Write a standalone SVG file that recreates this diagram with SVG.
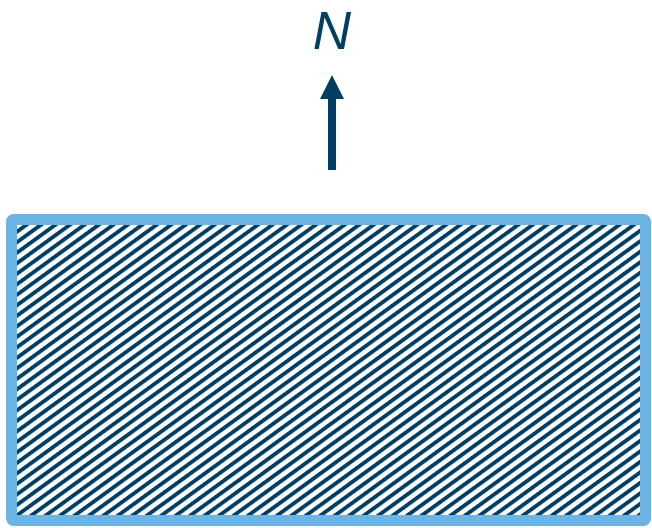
<svg xmlns="http://www.w3.org/2000/svg" width="652" height="528" viewBox="0 0 652 528">
  <style>
    .dark { fill: #003f63; }
    .label { font-family: "Liberation Sans", "Open Sans", sans-serif; font-style: italic; font-size: 53px; fill: #003f63; }
  </style>
  <defs>
    <pattern id="hatch" patternUnits="userSpaceOnUse" width="8.5" height="10" patternTransform="rotate(54)">
      <rect width="8.5" height="10" fill="#ffffff"/>
      <rect width="3.9" height="10" fill="#003f63"/>
    </pattern>
  </defs>
  <rect width="652" height="528" fill="#ffffff"/>
  <g id="area">
    <rect x="11.5" y="219.5" width="634" height="301" rx="2" fill="url(#hatch)" stroke="#6cb4e4" stroke-width="11"/>
  </g>
  <g id="north">
    <text class="label" x="332" y="49" text-anchor="middle">N</text>
  </g>
  <g id="connectors">
    <rect class="dark" x="328" y="98" width="8" height="72"/>
    <polygon class="dark" points="320,99 344,99 332,75"/>
  </g>
</svg>
